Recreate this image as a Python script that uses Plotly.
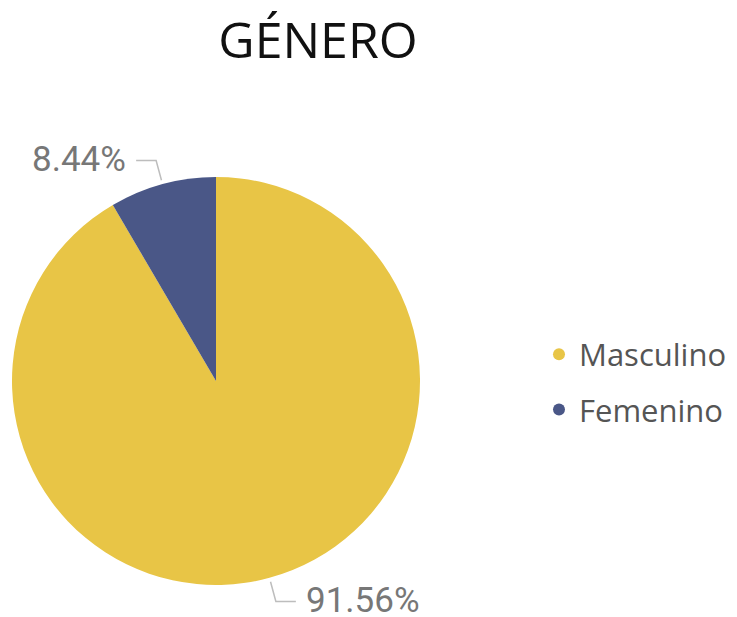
import math
import plotly.graph_objects as go

# ---- data ----
categories = ["Masculino", "Femenino"]
percentages = [91.56, 8.44]
colors = ["#E8C546", "#4A5787"]
title_text = "GÉNERO"

W, H = 737, 617
OFF = 8  # page body margin in the browser
# pie geometry in screen pixels (layout only)
CX, CY, R = 216, 381, 204


def px(x, y):
    """screen pixel -> paper coordinates"""
    return (x - OFF) / W, 1 - (y - OFF) / H


fig = go.Figure()
l, t = px(CX - R, CY - R)
r, b = px(CX + R, CY + R)
fig.add_trace(go.Pie(
    labels=categories,
    values=percentages,
    sort=False,
    direction="clockwise",
    rotation=0,
    marker=dict(colors=colors, line=dict(width=0)),
    textinfo="none",
    hoverinfo="label+percent",
    showlegend=False,
    domain=dict(x=[l, r], y=[b, t]),
))

# legend entries with circular markers
for cat, col in zip(categories, colors):
    fig.add_trace(go.Scatter(
        x=[None], y=[None], mode="markers", name=cat,
        marker=dict(symbol="circle", size=14, color=col),
        legendgroup=cat, showlegend=True,
    ))

# outside labels with leader lines, computed from data
total = sum(percentages)
cum = 0.0
shapes = []
annotations = []
for val in percentages:
    mid = (cum + val / 2) / total
    cum += val
    th = 2 * math.pi * mid
    s, c = math.sin(th), math.cos(th)
    x0, y0 = CX + 1.02 * R * s, CY - 1.02 * R * c
    x1, y1 = CX + 1.12 * R * s, CY - 1.12 * R * c
    side = 1 if s >= 0 else -1
    x2 = x1 + side * 20
    a0, b0 = px(x0, y0)
    a1, b1 = px(x1, y1)
    a2, b2 = px(x2, y1)
    shapes.append(dict(type="path", xref="paper", yref="paper",
                       path=f"M {a0} {b0} L {a1} {b1} L {a2} {b2}",
                       line=dict(color="#BDBDBD", width=1.5)))
    tx, ty = px(x2 + side * 8, y1 - 1)
    annotations.append(dict(
        x=tx, y=ty, xref="paper", yref="paper",
        text=f"{val:.2f}%", showarrow=False,
        xanchor="left" if side > 0 else "right", yanchor="middle",
        font=dict(family="Roboto", size=35, color="#777777"),
    ))

tx_title, ty_title = px(318, 40)
lx, ly = px(539, 382)
fig.update_layout(
    width=W, height=H,
    margin=dict(l=0, r=0, t=0, b=0),
    paper_bgcolor="white", plot_bgcolor="white",
    title=dict(text=title_text, x=tx_title, xanchor="center",
               y=ty_title, yanchor="middle",
               font=dict(family="Open Sans", size=50, color="#111111")),
    xaxis=dict(visible=False), yaxis=dict(visible=False),
    shapes=shapes,
    annotations=annotations,
    legend=dict(x=lx, y=ly, xanchor="left", yanchor="middle",
                traceorder="grouped", tracegroupgap=12,
                font=dict(family="Open Sans", size=31, color="#555555"),
                itemsizing="constant", bgcolor="rgba(0,0,0,0)"),
)

fig.write_html("out.html")
